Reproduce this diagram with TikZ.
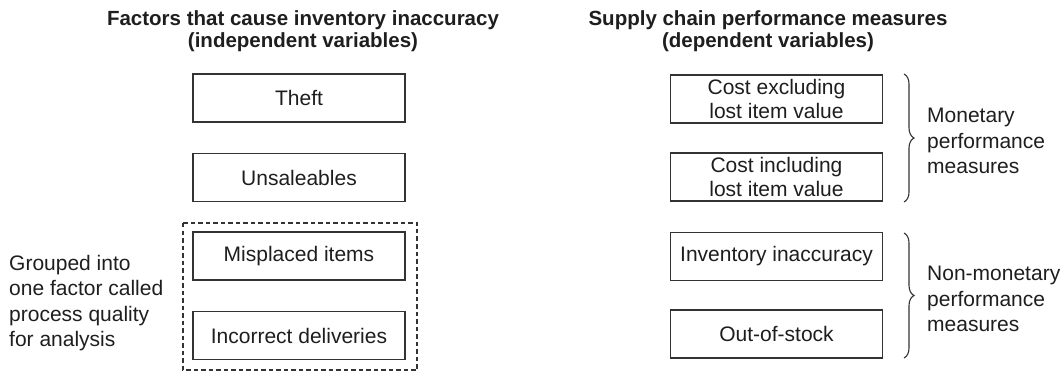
\documentclass[tikz,border=0pt]{standalone}
\usepackage{fontspec}
\setmainfont{Liberation Sans}
\usetikzlibrary{decorations.pathreplacing}
\definecolor{ink}{HTML}{1E1E1E}
\definecolor{edge}{HTML}{333333}
\tikzset{
  factorbox/.style={draw=edge, line width=1.4pt, fill=white, minimum width=212pt,
    minimum height=48pt, inner sep=0pt, align=center, text=ink,
    font=\fontsize{21}{24}\selectfont},
  heading/.style={align=center, text=ink, font=\fontsize{20.5}{22.5}\selectfont\bfseries},
  note/.style={align=left, anchor=west, text=ink, inner sep=0pt,
    font=\fontsize{21}{25.5}\selectfont},
  groupframe/.style={draw=edge, line width=1.2pt, dash pattern=on 4.5pt off 3pt},
  bracket/.style={draw=edge, line width=1.1pt, decorate,
    decoration={brace, amplitude=10pt}}
}
\begin{document}
\begin{tikzpicture}[x=1pt, y=-1pt]
  \useasboundingbox (0,0) rectangle (1064,371);

  % column headings
  \node[heading] (hleft) at (303,31) {Factors that cause inventory inaccuracy\\(independent variables)};
  \node[heading] (hright) at (768,31) {Supply chain performance measures\\(dependent variables)};

  % dashed frame around the two grouped factors
  \draw[groupframe] (183,223) rectangle (417,370);

  % independent variables
  \node[factorbox] (theft) at (299,98) {Theft};
  \node[factorbox] (unsale) at (299,177.5) {Unsaleables};
  \node[factorbox] (misplaced) at (299,256) {Misplaced items};
  \node[factorbox] (incorrect) at (299,335.5) {Incorrect deliveries};

  % dependent variables
  \node[factorbox] (costex) at (776.5,99) {Cost excluding\\lost item value};
  \node[factorbox] (costin) at (776.5,177) {Cost including\\lost item value};
  \node[factorbox] (invacc) at (776.5,256.5) {Inventory inaccuracy};
  \node[factorbox] (oos) at (776.5,334) {Out-of-stock};

  % grouping note
  \node[note] (groupnote) at (9,303) {Grouped into\\one factor called\\process quality\\for analysis};

  % braces and their labels
  \coordinate (mtop) at (904,74);
  \coordinate (mbot) at (904,202);
  \coordinate (ntop) at (904,233);
  \coordinate (nbot) at (904,358);
  \draw[bracket] (mtop) -- (mbot);
  \draw[bracket] (ntop) -- (nbot);
  \node[note] (monetary) at (927,141) {Monetary\\performance\\measures};
  \node[note] (nonmonetary) at (927,299) {Non-monetary\\performance\\measures};
\end{tikzpicture}
\end{document}
